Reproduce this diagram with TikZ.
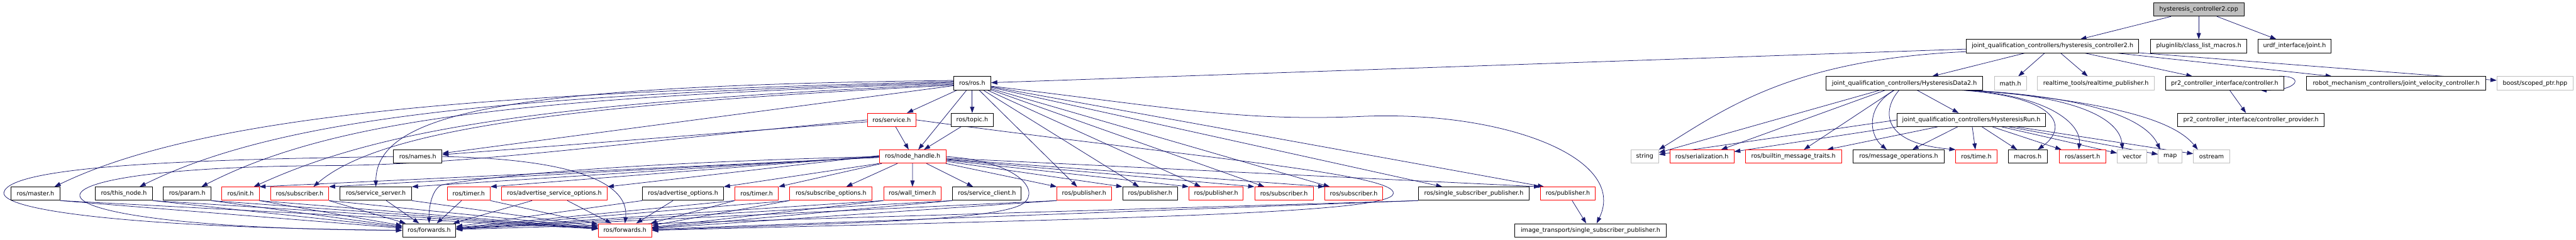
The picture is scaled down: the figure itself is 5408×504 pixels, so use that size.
\documentclass[tikz,border=0pt]{standalone}
\usepackage{fontspec}
\newfontfamily\dvs{DejaVu Sans}
\usetikzlibrary{arrows.meta}
\definecolor{edgec}{HTML}{191970}
\definecolor{grayc}{HTML}{BFBFBF}
\definecolor{redc}{HTML}{FF0000}
\pgfdeclarelayer{bg}
\pgfsetlayers{bg,main}
\begin{document}
\begin{tikzpicture}[x=1pt,y=-1pt,
  box/.style={draw=black, fill=white, line width=1.2pt, minimum height=28pt, inner sep=0pt, font=\dvs\fontsize{12.6}{14}\selectfont, text=black},
  rbox/.style={box, draw=redc},
  gbox/.style={box, draw=grayc},
  dep/.style={draw=edgec, line width=1pt, -{Triangle[length=13pt,width=9pt]}},
]
\useasboundingbox (0,0) rectangle (5408,504);
% row 0
\node[box, fill=grayc, minimum width=190pt] (cpp) at (4616,20) {hysteresis\_controller2.cpp};
% row 1
\node[box, minimum width=362pt] (hc2h) at (4309,97) {joint\_qualification\_controllers/hysteresis\_controller2.h};
\node[box, minimum width=202pt] (plugin) at (4616,97) {pluginlib/class\_list\_macros.h};
\node[box, minimum width=154pt] (urdf) at (4817,97) {urdf\_interface/joint.h};
% row 2
\node[box, minimum width=78pt] (ros) at (2041,175) {ros/ros.h};
\node[box, minimum width=328pt] (hd2) at (3998,175) {joint\_qualification\_controllers/HysteresisData2.h};
\node[gbox, minimum width=67pt] (mathh) at (4220.5,175) {math.h};
\node[gbox, minimum width=246pt] (rt) at (4400,175) {realtime\_tools/realtime\_publisher.h};
\node[box, minimum width=249pt] (ctrl) at (4670.5,175) {pr2\_controller\_interface/controller.h};
\node[box, minimum width=377pt] (jvc) at (5030.5,175) {robot\_mechanism\_controllers/joint\_velocity\_controller.h};
\node[gbox, minimum width=160pt] (boost) at (5322,175) {boost/scoped\_ptr.hpp};
% row 3
\node[rbox, minimum width=102pt] (service) at (1872,252) {ros/service.h};
\node[box, minimum width=89pt] (topic) at (2041,252) {ros/topic.h};
\node[box, minimum width=311pt] (hrun) at (4138.5,252) {joint\_qualification\_controllers/HysteresisRun.h};
\node[box, minimum width=307pt] (prov) at (4725.5,252) {pr2\_controller\_interface/controller\_provider.h};
% row 4
\node[box, minimum width=102pt] (names) at (877,329) {ros/names.h};
\node[rbox, minimum width=140pt] (nh) at (1916,329) {ros/node\_handle.h};
\node[gbox, minimum width=58pt] (string) at (3453,329) {string};
\node[rbox, minimum width=134pt] (serial) at (3573,329) {ros/serialization.h};
\node[rbox, minimum width=202pt] (builtin) at (3765,329) {ros/builtin\_message\_traits.h};
\node[box, minimum width=192pt] (msgops) at (3986,329) {ros/message\_operations.h};
\node[rbox, minimum width=86pt] (timeh) at (4149,329) {ros/time.h};
\node[box, minimum width=82pt] (macros) at (4257,329) {macros.h};
\node[rbox, minimum width=98pt] (assert) at (4372,329) {ros/assert.h};
\node[gbox, minimum width=62pt] (vector) at (4476,329) {vector};
\node[gbox, minimum width=50pt] (map) at (4556,329) {map};
\node[gbox, minimum width=76pt] (ostream) at (4643,329) {ostream};
% row 5
\node[box, minimum width=103pt] (master) at (74.5,407) {ros/master.h};
\node[box, minimum width=120pt] (thisnode) at (260,407) {ros/this\_node.h};
\node[box, minimum width=100pt] (param) at (393,407) {ros/param.h};
\node[rbox, minimum width=78pt] (init) at (505,407) {ros/init.h};
\node[rbox, minimum width=122pt] (sub1) at (629,407) {ros/subscriber.h};
\node[box, minimum width=150pt] (sserver) at (789,407) {ros/service\_server.h};
\node[rbox, minimum width=90pt] (timer1) at (984,407) {ros/timer.h};
\node[rbox, minimum width=222pt] (advsrv) at (1164,407) {ros/advertise\_service\_options.h};
\node[box, minimum width=170pt] (advopt) at (1434,407) {ros/advertise\_options.h};
\node[rbox, minimum width=91pt] (timer2) at (1588.5,407) {ros/timer.h};
\node[rbox, minimum width=173pt] (subopt) at (1744.5,407) {ros/subscribe\_options.h};
\node[rbox, minimum width=121pt] (wall) at (1915.5,407) {ros/wall\_timer.h};
\node[box, minimum width=144pt] (sclient) at (2072,407) {ros/service\_client.h};
\node[rbox, minimum width=114pt] (pubr1) at (2276,407) {ros/publisher.h};
\node[box, minimum width=115pt] (pubb) at (2414.5,407) {ros/publisher.h};
\node[rbox, minimum width=114pt] (pubr2) at (2553,407) {ros/publisher.h};
\node[rbox, minimum width=123pt] (sub2) at (2695.5,407) {ros/subscriber.h};
\node[rbox, minimum width=122pt] (sub3) at (2842,407) {ros/subscriber.h};
\node[box, minimum width=232pt] (ssp) at (3094,407) {ros/single\_subscriber\_publisher.h};
\node[rbox, minimum width=115pt] (pubr3) at (3291.5,407) {ros/publisher.h};
% row 6
\node[box, minimum width=112pt] (fwdb) at (901,484) {ros/forwards.h};
\node[rbox, minimum width=112pt] (fwdr) at (1312,484) {ros/forwards.h};
\node[box, minimum width=318pt] (img) at (3339,484) {image\_transport/single\_subscriber\_publisher.h};

\begin{pgfonlayer}{bg}
\fill[white] (0,0) rectangle (5408,504);
% cpp
\draw[dep] (cpp) -- (hc2h);
\draw[dep] (cpp) -- (plugin);
\draw[dep] (cpp) -- (urdf);
% hysteresis_controller2.h
\draw[dep] (hc2h) -- (ros);
\draw[dep] ([yshift=3pt]hc2h.south west) .. controls (3760,125) and (3620,230) .. (string.north east);
\draw[dep] (hc2h) -- (hd2);
\draw[dep] (hc2h) -- (mathh);
\draw[dep] (hc2h) -- (rt);
\draw[dep] (hc2h) -- (ctrl);
\draw[dep] (hc2h) -- (jvc);
\draw[dep] (hc2h) -- (boost);
% HysteresisData2.h
\draw[dep] (hd2) -- (hrun);
\draw[dep] (hd2) -- (string);
\draw[dep] (hd2) -- (serial);
\draw[dep] (hd2) -- (builtin);
\draw[dep] ([xshift=-21pt]hd2.south) .. controls (3915,225) and (3925,285) .. ([xshift=-25pt]msgops.north);
\draw[dep] ([xshift=-11pt]hd2.south) .. controls (3955,225) and (3940,300) .. (timeh.north west);
\draw[dep] ([xshift=121pt]hd2.south) .. controls (4330,205) and (4340,270) .. ([xshift=21pt]macros.north);
\draw[dep] ([xshift=126pt]hd2.south) .. controls (4300,200) and (4370,260) .. ([xshift=-8pt]assert.north);
\draw[dep] ([xshift=130pt]hd2.south) .. controls (4360,200) and (4450,250) .. ([xshift=-20pt]vector.north);
\draw[dep] ([xshift=135pt]hd2.south) .. controls (4420,205) and (4510,260) .. ([xshift=-21pt]map.north);
\draw[dep] ([xshift=140pt]hd2.south) .. controls (4460,215) and (4570,260) .. ([xshift=-29pt]ostream.north);
% HysteresisRun.h
\draw[dep] (hrun.west) -- (string);
\draw[dep] (hrun.south west) -- (serial);
\draw[dep] (hrun) -- (builtin);
\draw[dep] (hrun) -- (msgops);
\draw[dep] (hrun) -- (timeh);
\draw[dep] (hrun) -- (macros);
\draw[dep] (hrun) -- (assert);
\draw[dep] (hrun) -- (vector);
\draw[dep] (hrun) -- (map);
\draw[dep] (hrun) -- (ostream);
% controller.h
\draw[dep] ([xshift=-15pt]ctrl.north east) .. controls +(60,-3) and +(80,1) .. ([xshift=-50pt]ctrl.south east);
\draw[dep] (ctrl) -- (prov);
% ros.h to the left
\draw[dep] ([yshift=4pt]ros.west) .. controls (1100,195) and (450,230) .. ([xshift=40pt]master.north);
\draw[dep] ([yshift=2pt]ros.west) .. controls (1100,200) and (600,240) .. ([xshift=33pt]thisnode.north);
\draw[dep] (ros.west) .. controls (1100,205) and (700,250) .. ([xshift=30pt]param.north);
\draw[dep] ([yshift=-2pt]ros.west) .. controls (1150,215) and (800,270) .. ([xshift=28pt]init.north);
\draw[dep] ([yshift=-4pt]ros.west) .. controls (1200,220) and (800,270) .. ([xshift=29pt]sub1.north);
\draw[dep] ([yshift=6pt]ros.west) .. controls (1100,180) and (790,230) .. (sserver.north);
\draw[dep] (ros) -- (names);
\draw[dep] (ros) -- (service);
\draw[dep] (ros) -- (topic);
\draw[dep] (ros) -- (nh);
% ros.h to the right
\draw[dep] (ros) -- (pubr1);
\draw[dep] (ros) -- (pubb);
\draw[dep] (ros) -- (pubr2);
\draw[dep] (ros) -- (sub2);
\draw[dep] (ros) -- (sub3);
\draw[dep] (ros) -- (ssp);
\draw[dep] (ros) -- ([xshift=8pt]pubr3.north west);
\draw[dep] ([yshift=-6pt]ros.east) .. controls (2450,225) and (2600,255) .. (2850,245) .. controls (3150,230) and (3420,330) .. ([xshift=13pt]img.north);
% service.h, topic.h
\draw[dep] (service) -- (names);
\draw[dep] (service) -- (nh);
\draw[dep] (topic) -- (nh);
\draw[dep] (service.west) .. controls (1300,300) and (1000,345) .. (700,348) .. controls (-40,350) and (-20,480) .. (fwdb.west);
\draw[dep] (service.east) .. controls (2500,330) and (2935,365) .. (2925,407) .. controls (2920,450) and (2300,460) .. (fwdr.east);
% names.h
\draw[dep] (names.west) .. controls (450,335) and (18,345) .. (8,405) .. controls (5,440) and (250,478) .. (fwdb.west);
\draw[dep] (names.east) .. controls (1250,335) and (1320,400) .. (fwdr.north);
% node_handle.h
\draw[dep] (nh.west) .. controls (1200,345) and (975,380) .. (930,388) .. controls (910,392) and (900,430) .. (fwdb.north);
\draw[dep] (nh.east) .. controls (2150,340) and (2190,410) .. (2140,432) .. controls (2060,467) and (1700,470) .. (fwdr.east);
\draw[dep] ([yshift=-2pt]nh.west) -- (init.north east);
\draw[dep] ([yshift=-1pt]nh.west) -- (sub1.north east);
\draw[dep] (nh.west) -- (sserver.north east);
\draw[dep] ([yshift=1pt]nh.west) -- (timer1.north east);
\draw[dep] ([yshift=2pt]nh.west) -- (advsrv.north east);
\draw[dep] (nh.south west) -- (advopt.north east);
\draw[dep] (nh) -- (timer2.north east);
\draw[dep] (nh) -- (subopt);
\draw[dep] (nh) -- (wall);
\draw[dep] (nh) -- (sclient);
\draw[dep] (nh) -- (pubr1.north west);
\draw[dep] (nh) -- (pubb.north west);
\draw[dep] (nh) -- (pubr2.north west);
\draw[dep] (nh) -- (sub2.north west);
\draw[dep] (nh) -- (sub3.north west);
\draw[dep] (nh) -- (pubr3.north west);
% row 5 to forwards.h
\draw[dep] (master.south east) -- (fwdb);
\draw[dep] (master.south east) -- (fwdr);
\draw[dep] (thisnode.south east) -- (fwdb);
\draw[dep] (thisnode.south east) -- (fwdr);
\draw[dep] (param.south east) -- (fwdb);
\draw[dep] (param.south east) -- (fwdr);
\draw[dep] (init.south east) -- (fwdb);
\draw[dep] (init.south east) -- (fwdr);
\draw[dep] (sub1.south east) -- (fwdb);
\draw[dep] (sub1.south east) -- (fwdr);
\draw[dep] ([xshift=22pt]sserver.south) -- (fwdb);
\draw[dep] (sserver.south east) -- (fwdr);
\draw[dep] ([xshift=-15pt]timer1.south) -- (fwdb);
\draw[dep] (timer1.south east) -- (fwdr);
\draw[dep] ([xshift=-47pt]advsrv.south) -- (fwdb);
\draw[dep] ([xshift=27pt]advsrv.south) -- (fwdr);
\draw[dep] (advopt.south west) -- (fwdb);
\draw[dep] ([xshift=-21pt]advopt.south) -- (fwdr);
\draw[dep] (timer2.south west) -- (fwdb);
\draw[dep] (timer2.south west) -- (fwdr);
\draw[dep] (subopt.south west) -- (fwdb);
\draw[dep] (subopt.south west) -- (fwdr);
\draw[dep] (wall.south west) -- (fwdb);
\draw[dep] (wall.south west) -- (fwdr);
\draw[dep] (sclient.south west) -- (fwdb);
\draw[dep] (sclient.south west) -- (fwdr);
\draw[dep] (pubr1.south west) -- (fwdb);
\draw[dep] (pubr1.south west) -- (fwdr);
\draw[dep] (ssp.south west) -- (fwdb);
\draw[dep] (ssp.south west) -- (fwdr);
\draw[dep] (pubr3) -- (img);
\end{pgfonlayer}
\end{tikzpicture}
\end{document}
